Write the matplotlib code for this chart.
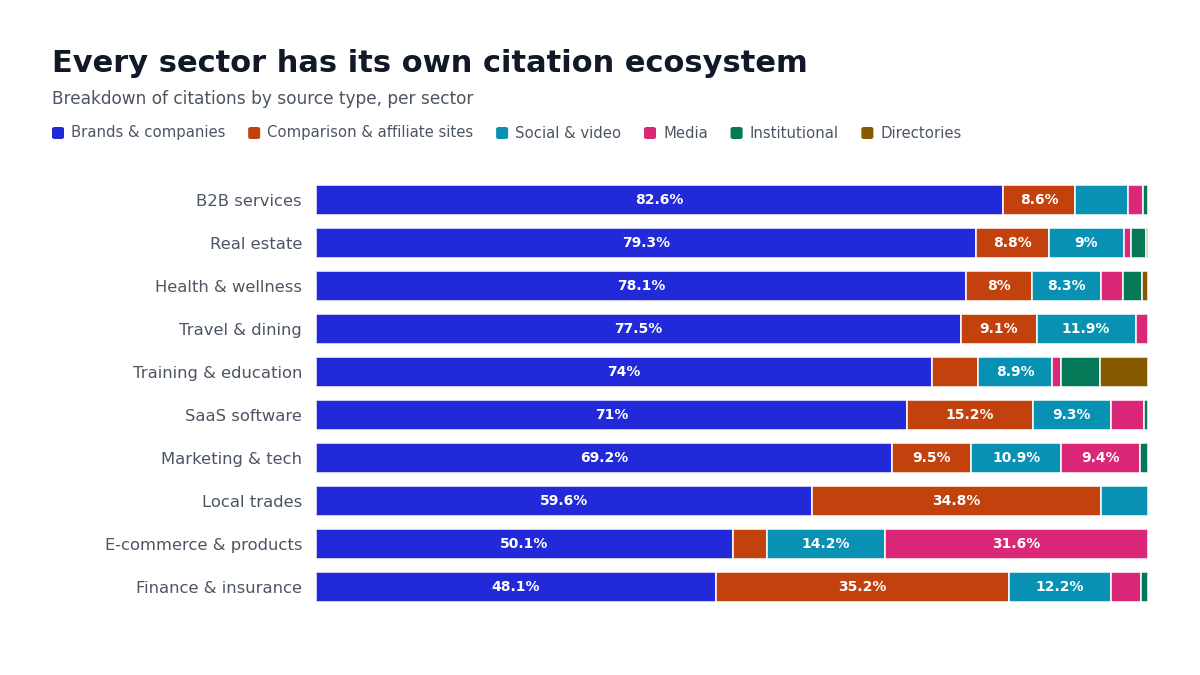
import matplotlib
matplotlib.use("Agg")
import matplotlib.pyplot as plt
from matplotlib.patches import FancyBboxPatch
import numpy as np

sectors = ["B2B services", "Real estate", "Health & wellness", "Travel & dining",
           "Training & education", "SaaS software", "Marketing & tech", "Local trades",
           "E-commerce & products", "Finance & insurance"]
series_names = ["Brands & companies", "Comparison & affiliate sites", "Social & video",
                "Media", "Institutional", "Directories"]
colors = ["#2129d9", "#c2410c", "#0891b2", "#db2777", "#047857", "#865b00"]

brands      = [82.6, 79.3, 78.1, 77.5, 74.0, 71.0, 69.2, 59.6, 50.1, 48.1]
comparison  = [8.6, 8.8, 8.0, 9.1, 5.6, 15.2, 9.5, 34.8, 4.1, 35.2]
social      = [6.4, 9.0, 8.3, 11.9, 8.9, 9.3, 10.9, 5.6, 14.2, 12.2]
media       = [1.8, 0.9, 2.6, 1.5, 1.1, 4.0, 9.4, 0.0, 31.6, 3.7]
institution = [0.6, 1.7, 2.3, 0.0, 4.6, 0.5, 1.0, 0.0, 0.0, 0.8]
directories = [0.0, 0.3, 0.7, 0.0, 5.8, 0.0, 0.0, 0.0, 0.0, 0.0]

data = np.array([brands, comparison, social, media, institution, directories])

W, H = 1200.0, 675.0
fig = plt.figure(figsize=(12, 6.75), dpi=100)
fig.patch.set_facecolor("white")
ax_left, ax_right = 316 / W, 1148 / W
ax_top, ax_bot = 1 - 178.5 / H, 1 - 608.5 / H
ax = fig.add_axes([ax_left, ax_bot, ax_right - ax_left, ax_top - ax_bot])

n = len(sectors)
ypos = np.arange(n)
bar_h = 0.72
totals = data.sum(axis=0)

ax.set_xlim(0, 100)
ax.set_ylim(n - 0.5, -0.5)

# data units per pixel
x_per_px = 100 / ((ax_right - ax_left) * W)
y_per_px = n / ((ax_top - ax_bot) * H)
aspect = y_per_px / x_per_px
radius_px = 4.0

for i in range(n):
    clip = FancyBboxPatch((0, ypos[i] - bar_h / 2), totals[i], bar_h,
                          boxstyle=f"round,pad=0,rounding_size={radius_px * x_per_px}",
                          mutation_aspect=aspect,
                          transform=ax.transData, facecolor="none", edgecolor="none")
    ax.add_patch(clip)
    left = 0.0
    for s in range(len(series_names)):
        v = data[s, i]
        if v <= 0:
            continue
        bars = ax.barh(ypos[i], v, left=left, height=bar_h, color=colors[s],
                       edgecolor="white", linewidth=1.1)
        for b in bars:
            b.set_clip_path(clip)
        if v >= 7:
            ax.text(left + v / 2, ypos[i], f"{v:g}%", ha="center", va="center",
                    color="white", fontsize=10, fontweight="bold")
        left += v

ax.set_yticks(ypos)
ax.set_yticklabels(sectors, fontsize=11.8, color="#4b5563")
ax.tick_params(axis="y", length=0, pad=10)
ax.set_xticks([])
for sp in ax.spines.values():
    sp.set_visible(False)

fig.text(52 / W, 1 - 63.5 / H, "Every sector has its own citation ecosystem",
         fontsize=22, fontweight="bold", color="#111827", va="center", ha="left")
fig.text(52 / W, 1 - 99 / H, "Breakdown of citations by source type, per sector",
         fontsize=12.25, color="#4b5563", va="center", ha="left")

# legend
fig.canvas.draw()
renderer = fig.canvas.get_renderer()
x = 52.0
ly = 133.0
for name, c in zip(series_names, colors):
    sq = FancyBboxPatch((x / W, 1 - (ly + 6) / H), 12 / W, 12 / H,
                        boxstyle="round,pad=0,rounding_size=0.0025",
                        transform=fig.transFigure, facecolor=c, edgecolor="none")
    fig.patches.append(sq)
    t = fig.text((x + 19) / W, 1 - ly / H, name, fontsize=10.7, color="#4b5563",
                 va="center", ha="left")
    bb = t.get_window_extent(renderer=renderer)
    x = x + 19 + bb.width + 22.8

fig.savefig("out.png", dpi=100, facecolor="white")
